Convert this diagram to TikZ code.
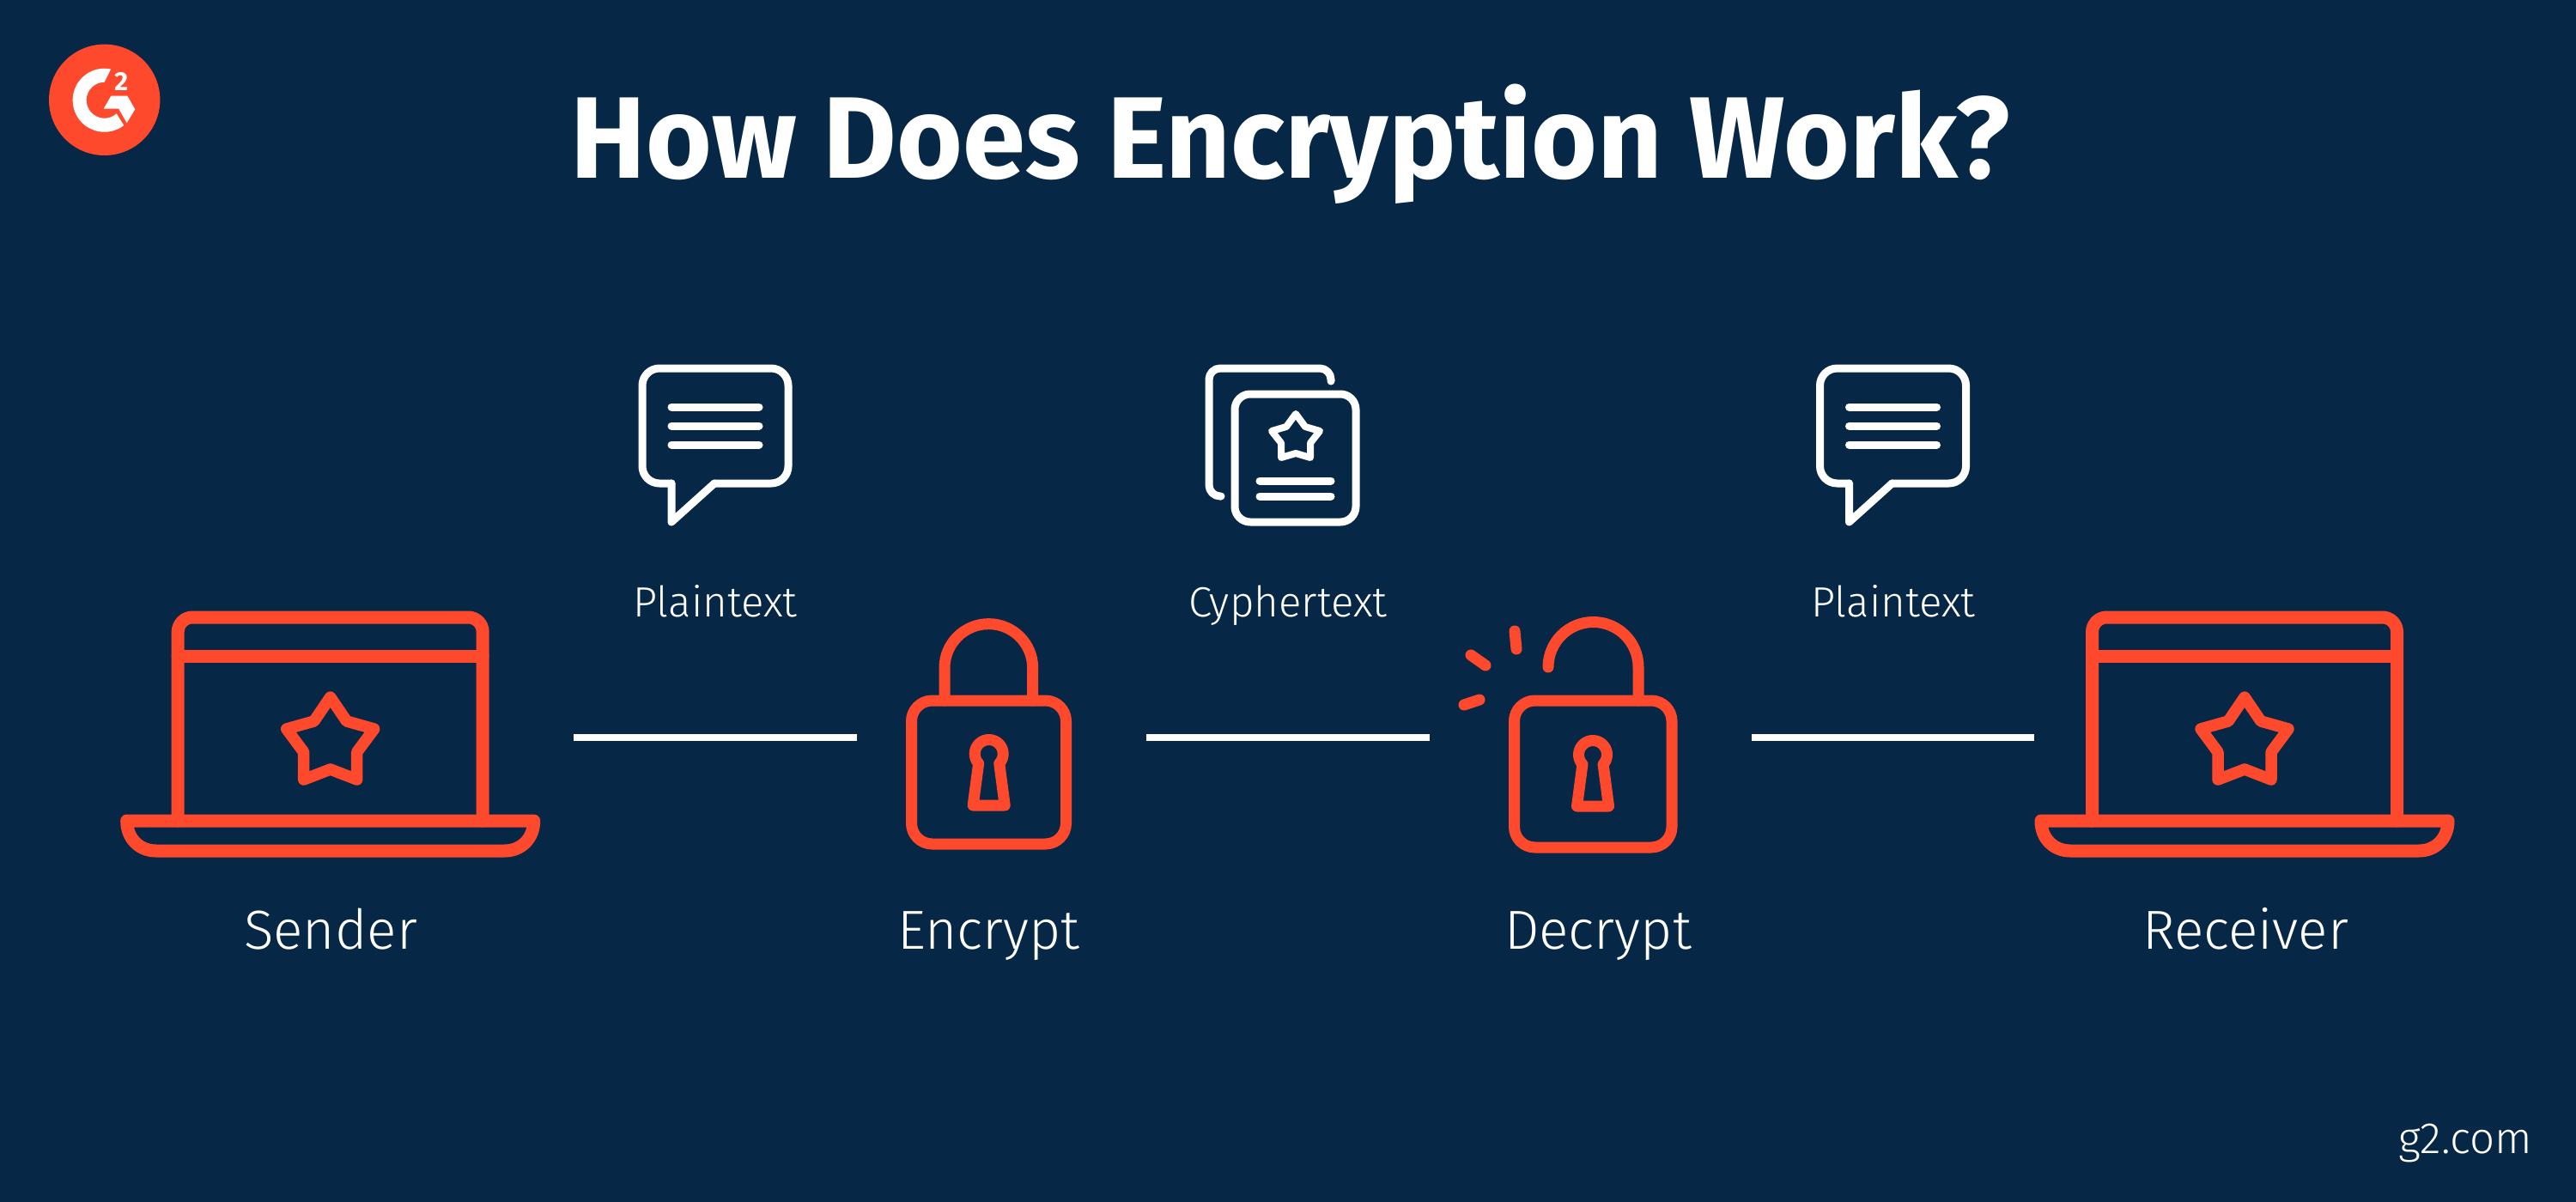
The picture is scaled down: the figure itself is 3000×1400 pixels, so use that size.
\documentclass[tikz,border=0pt]{standalone}
\usepackage{fontspec}
\setmainfont{Fira Sans}
\newfontfamily\titlefont{Fira Sans}[BoldFeatures={FakeStretch=0.975}]
\newfontfamily\lightfont{Fira Sans Light}
\definecolor{navy}{HTML}{062745}
\definecolor{coral}{HTML}{FF492C}
\tikzset{
  px/.style={x=0.01cm,y=-0.01cm},
  ico/.style={draw=coral,line width=0.15cm,line cap=round,line join=round},
  lockline/.style={draw=coral,line width=0.13cm,line cap=round,line join=round},
  wico/.style={draw=white,line width=0.09cm,line cap=round,line join=round},
  conn/.style={draw=white,line width=0.075cm},
  lab/.style={text=white,font=\lightfont\fontsize{18.2}{22}\selectfont,inner sep=0pt,anchor=base},
  slab/.style={text=white,font=\lightfont\fontsize{14}{17}\selectfont,inner sep=0pt,anchor=base},
  ttl/.style={text=white,font=\titlefont\bfseries\fontsize{38.4}{46}\selectfont,inner sep=0pt,anchor=base},
  pics/laptop/.style={code={
    \draw[ico,rounded corners=0.17cm] (-177.5,956) -- (-177.5,719) -- (177.5,719) -- (177.5,956);
    \draw[ico] (-177.5,764) -- (177.5,764);
    \draw[ico] (-237,956) -- (237,956) .. controls (237,977) and (222,991) .. (203,991) -- (-203,991) .. controls (-222,991) and (-237,977) .. (-237,956) -- cycle;
    \draw[ico,line width=0.135cm] (0,812) -- (19,840) -- (51,849) -- (31,876) -- (31,908) -- (0,896) -- (-31,908) -- (-31,876) -- (-51,849) -- (-19,840) -- cycle;
  }},
  pics/bubble/.style={code={
    \draw[wico,rounded corners=0.2cm] (34,134) -- (0,134) -- (0,0) -- (170,0) -- (170,134) -- (84,134);
    \draw[wico] (34,134) -- (34,179) -- (84,134);
    \draw[wico] (34,45) -- (136,45) (34,67) -- (136,67) (34,89) -- (136,89);
  }},
  pics/keyhole/.style={code={
    \draw[lockline] (-12.07,11.25) arc[start angle=137,end angle=403,radius=16.5] -- (18.5,60) -- (-18.5,60) -- cycle;
  }}
}
\begin{document}
\begin{tikzpicture}[px]
\useasboundingbox (0,0) rectangle (3000,1400);
\fill[navy] (0,0) rectangle (3000,1400);
% logo
\fill[coral] (121.7,116.3) circle[radius=64.7];
\fill[white] (129.1,80.5) arc[start angle=281.6,end angle=52.4,radius=37] -- (135.7,132.3) arc[start angle=48,end angle=270,radius=21] -- cycle;
\fill[white] (120.7,126.7) -- (129.3,111.7) -- (148.3,111.7) -- (157.3,127.3) -- (147.7,143.3) -- (138.3,126.7) -- cycle;
\node[text=white,font=\bfseries\fontsize{8.7}{10}\selectfont,inner sep=0pt,anchor=base] (sup) at (141.3,106) {2};
% title
\node[ttl] (title) at (1502.5,208) {How Does Encryption Work?};
\node[slab,font=\lightfont\fontsize{14.5}{17}\selectfont] (g2) at (2871,1343) {g2.com};
% laptops
\path (384.7,0) pic {laptop};
\path (2614,0) pic {laptop};
\node[lab] (sender) at (385,1105) {Sender};
\node[lab] (encrypt) at (1151.5,1105) {Encrypt};
\node[lab] (decrypt) at (1861,1105) {Decrypt};
\node[lab] (receiver) at (2615,1105) {Receiver};
\node[slab] (pt1) at (833,718) {Plaintext};
\node[slab] (ct) at (1500,718) {Cyphertext};
\node[slab] (pt2) at (2205,718) {Plaintext};
% speech bubbles
\path (748,429) pic {bubble};
\path (2119.5,429) pic {bubble};
% document icon
\draw[wico,rounded corners=0.13cm] (1550,444) -- (1550,429) -- (1408,429) -- (1408,578) -- (1422,578);
\draw[wico,rounded corners=0.18cm] (1438,459) rectangle (1579,608);
\draw[wico,line width=0.08cm] (1509,482) -- (1520,497) -- (1537,502) -- (1526,516) -- (1526,533) -- (1509,528) -- (1492,533) -- (1492,516) -- (1481,502) -- (1498,497) -- cycle;
\draw[wico] (1467,560) -- (1550,560) (1467,578) -- (1550,578);
% closed lock
\draw[lockline,rounded corners=0.24cm] (1061.5,816) rectangle (1241.5,983);
\draw[lockline] (1100,816) -- (1100,778) arc[start angle=180,end angle=360,radius=51.35] -- (1202.7,816);
\path (1151.7,878) pic {keyhole};
% open lock
\draw[lockline,rounded corners=0.24cm] (1763.5,816) rectangle (1947,987);
\draw[lockline] (1803,777) arc[start angle=180,end angle=360,radius=52.5] -- (1908,816);
\path (1855,879) pic {keyhole};
\draw[lockline] (1764,735) -- (1766,756) (1713,763) -- (1730,775) (1705,821) -- (1723,815);
% connectors
\coordinate (a1) at (668,859); \coordinate (a2) at (998,859);
\coordinate (b1) at (1335,859); \coordinate (b2) at (1665,859);
\coordinate (c1) at (2040,859); \coordinate (c2) at (2369,859);
\draw[conn] (a1) -- (a2);
\draw[conn] (b1) -- (b2);
\draw[conn] (c1) -- (c2);
\end{tikzpicture}
\end{document}
